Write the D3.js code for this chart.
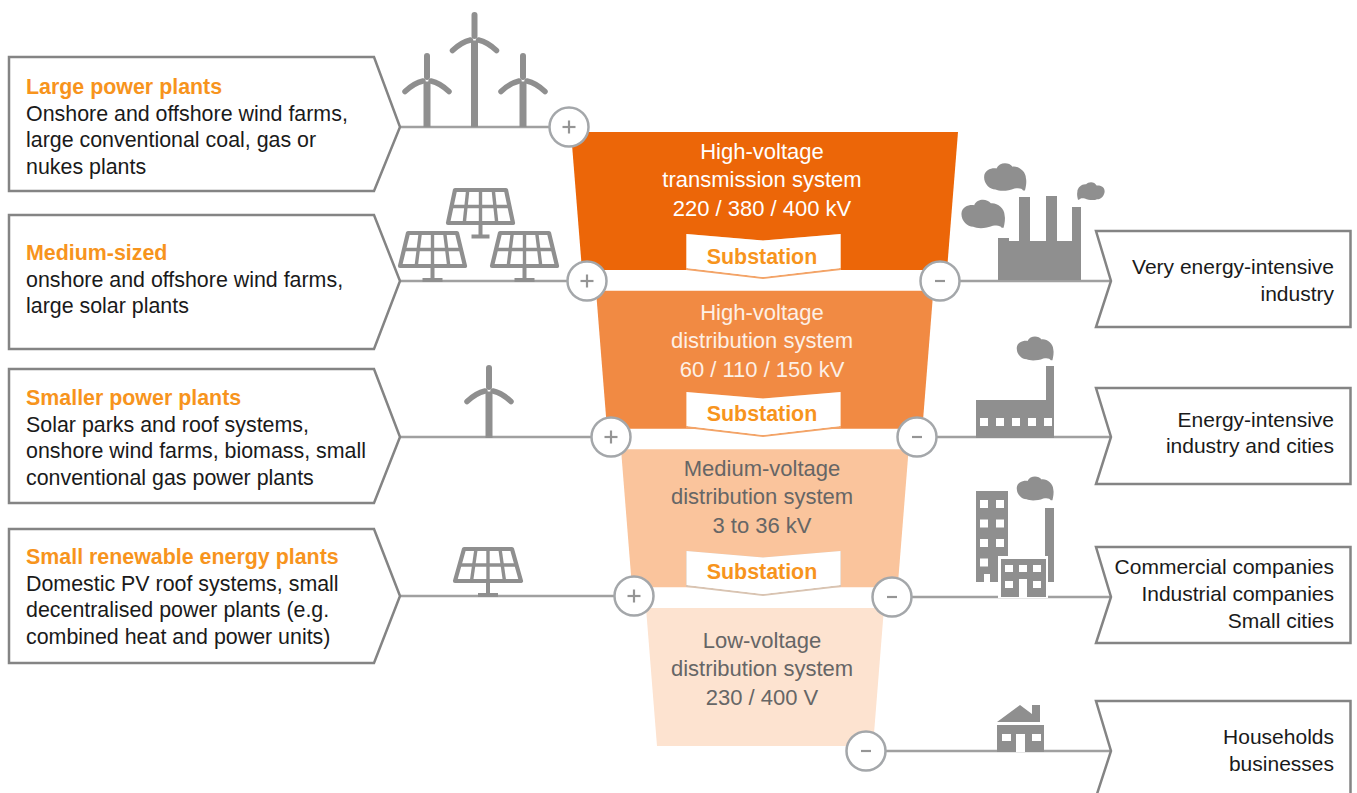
<!DOCTYPE html>
<html><head><meta charset="utf-8">
<script src="https://cdn.jsdelivr.net/npm/d3@7/dist/d3.min.js"></script>
<style>
html,body{margin:0;padding:0;background:#fff;overflow:hidden}
svg{display:block}
text{font-family:"Liberation Sans",Arial,sans-serif}
</style></head><body>
<script>
// ---- content ----
const sourceTitles = ["Large power plants","Medium-sized","Smaller power plants","Small renewable energy plants"];
const sourceLines = [
  ["Onshore and offshore wind farms,","large conventional coal, gas or","nukes plants"],
  ["onshore and offshore wind farms,","large solar plants"],
  ["Solar parks and roof systems,","onshore wind farms, biomass, small","conventional gas power plants"],
  ["Domestic PV roof systems, small","decentralised power plants (e.g.","combined heat and power units)"]
];
const sinkLines = [
  ["Very energy-intensive","industry"],
  ["Energy-intensive","industry and cities"],
  ["Commercial companies","Industrial companies","Small cities"],
  ["Households","businesses"]
];
const tierLines = [
  ["High-voltage","transmission system","220 / 380 / 400 kV"],
  ["High-voltage","distribution system","60 / 110 / 150 kV"],
  ["Medium-voltage","distribution system","3 to 36 kV"],
  ["Low-voltage","distribution system","230 / 400 V"]
];
const tierFill = ["#ec6608","#f18a43","#fac49c","#fde3d0"];
const tierText = ["#ffffff","#fdf0e6","#666666","#666666"];
const substationLabel = "Substation";

// ---- scales (tier index -> page position) ----
const idx = [0,1,2,3];
const W = 1357, H = 793;
const tierTop    = d3.scaleLinear([0,3],[132,608]);
const tierLeft   = d3.scaleLinear([0,3],[571,646]);
const tierRight  = d3.scaleLinear([0,3],[958,884]);
const srcY       = d3.scaleLinear(idx,[127,281,437,596]);
const sinkY      = d3.scaleLinear(idx,[281,437,597,751]);
const srcCircleX = d3.scaleLinear(idx,[569,587,611,634]);
const sinkCircleX= d3.scaleLinear(idx,[940,917,892,866]);
const subTop     = d3.scaleLinear([0,1,2],[235,393,552]);
const subBase    = d3.scaleLinear([0,1,2],[264,421,579]);
const srcTop     = d3.scaleLinear(idx,[57,215,369,529]);
const srcBase    = d3.scaleLinear(idx,[94,260,405,564]);
const sinkTop    = d3.scaleLinear(idx,[231,388,547,701]);
const tierH = 138, subH = 34;
const CX = 763, INK = "#8f8f8f", EDGE = "#848484", ORANGE = "#f7941d";

const svg = d3.select("body").append("svg").attr("width",W).attr("height",H);
const poly = pts => "M" + pts.map(p=>p.join(",")).join("L") + "Z";

// ---- funnel ----
svg.append("g").selectAll("path").data(idx).join("path")
  .attr("d", i => { const t=tierTop(i), l=tierLeft(i), r=tierRight(i);
    return poly([[l,t],[r,t],[r-11,t+tierH],[l+11,t+tierH]]); })
  .attr("fill", i => tierFill[i]);

// ---- substations ----
const subs = svg.append("g").selectAll("g").data([0,1,2]).join("g");
subs.append("path")
  .attr("d", i => { const t=subTop(i);
    return poly([[687,t],[CX,t+6.5],[840,t],[840,t+subH],[CX,t+subH+9],[687,t+subH]]); })
  .attr("fill","#fff")
  .attr("stroke", i => ["#f3a468","#f3a468","#d9c4b2"][i]).attr("stroke-width",2);
subs.append("path") // only the lower chevron keeps its tinted edge
  .attr("d", i => { const t=subTop(i);
    return poly([[686.5,t-1],[CX,t+5.5],[840.5,t-1],[840.5,t+subH-1],[CX,t+subH+8],[686.5,t+subH-1]]); })
  .attr("fill","#fff");
subs.append("text").attr("x",762).attr("y", i => subBase(i))
  .attr("text-anchor","middle").attr("font-size",21.4).attr("font-weight",700).attr("fill",ORANGE)
  .text(substationLabel);

// ---- tier text ----
const tierG = svg.append("g").selectAll("text").data(idx).join("text")
  .attr("text-anchor","middle").attr("font-size",22).attr("fill",i=>tierText[i]);
tierG.selectAll("tspan").data(i => tierLines[i].map((s,k)=>({s,k,i}))).join("tspan")
  .attr("x",762).attr("y", d => [159,320,476,648][d.i] + d.k*28.3).text(d=>d.s);

// ---- connector lines ----
svg.append("g").selectAll("line").data(idx).join("line")
  .attr("x1",400).attr("x2",i=>srcCircleX(i)).attr("y1",i=>srcY(i)).attr("y2",i=>srcY(i))
  .attr("stroke","#a0a0a0").attr("stroke-width",2.5);
svg.append("g").selectAll("line").data(idx).join("line")
  .attr("x1",i=>sinkCircleX(i)).attr("x2",1111).attr("y1",i=>sinkY(i)).attr("y2",i=>sinkY(i))
  .attr("stroke","#a0a0a0").attr("stroke-width",2.5);

// ---- left boxes ----
const srcG = svg.append("g").selectAll("g").data(idx).join("g");
srcG.append("path")
  .attr("d", i => { const t=srcTop(i), y=srcY(i);
    return poly([[9,t],[374,t],[400,y],[374,t+134],[9,t+134]]); })
  .attr("fill","#fff").attr("stroke",EDGE).attr("stroke-width",2.5);
srcG.append("text").attr("x",26).attr("y",i=>srcBase(i))
  .attr("font-size",21.4).attr("font-weight",700).attr("fill",ORANGE).text(i=>sourceTitles[i]);
srcG.selectAll(".l").data(i=>sourceLines[i].map((s,k)=>({s,k,i}))).join("text").attr("class","l")
  .attr("x",26).attr("y",d=>srcBase(d.i)+26.6*(d.k+1))
  .attr("font-size",21.4).attr("fill","#1a1a1a").text(d=>d.s);

// ---- right boxes ----
const sinkG = svg.append("g").selectAll("g").data(idx).join("g");
sinkG.append("path")
  .attr("d", i => { const t=sinkTop(i), y=sinkY(i);
    return poly([[1096,t],[1350.5,t],[1350.5,t+96],[1096,t+96],[1111,y]]); })
  .attr("fill","#fff").attr("stroke",EDGE).attr("stroke-width",2.5);
const sinkBase = [[274,301],[427,453],[574,601,628],[744,771]];
sinkG.selectAll(".l").data(i=>sinkLines[i].map((s,k)=>({s,k,i}))).join("text").attr("class","l")
  .attr("x",1334).attr("y",d=>sinkBase[d.i][d.k]).attr("text-anchor","end")
  .attr("font-size",21).attr("fill","#1a1a1a").text(d=>d.s);

// ---- +/- nodes ----
function node(x,y,sign){
  const g = svg.append("g").attr("transform",`translate(${x},${y})`);
  g.append("circle").attr("r",19.5).attr("fill","#fff").attr("stroke","#a4a7aa").attr("stroke-width",2.5);
  g.append("line").attr("x1",sign?-6.5:-5).attr("x2",sign?6.5:5).attr("stroke","#959595").attr("stroke-width",2.2);
  if(sign) g.append("line").attr("y1",-6.5).attr("y2",6.5).attr("stroke","#959595").attr("stroke-width",2.2);
}
idx.forEach(i=>node(srcCircleX(i),srcY(i),true));
idx.forEach(i=>node(sinkCircleX(i),sinkY(i),false));

// ---- icons ----
const ic = svg.append("g");
function turbine(x,base,top,hubOff){
  const hub = top + hubOff;
  const g = ic.append("g").attr("stroke",INK).attr("fill","none").attr("stroke-linecap","round");
  g.append("line").attr("x1",x).attr("x2",x).attr("y1",hub+1.5).attr("y2",base).attr("stroke-width",7).attr("stroke-linecap","butt");
  g.append("line").attr("x1",x).attr("x2",x).attr("y1",top+3).attr("y2",hub-3).attr("stroke-width",6);
  g.append("path").attr("d",`M${x-4},${hub+1}Q${x-13},${hub+3} ${x-22},${hub+11.5}`).attr("stroke-width",5.5);
  g.append("path").attr("d",`M${x+4},${hub+1}Q${x+13},${hub+3} ${x+22},${hub+11.5}`).attr("stroke-width",5.5);
}
turbine(427,127,53,27); turbine(474.5,127,12,27); turbine(523,127,53,27); turbine(489,438,365,25);

function panel(cx,top,bot,tw,bw,stemEnd,baseW){
  const g = ic.append("g").attr("stroke",INK).attr("fill","none");
  const xAt=(u,v)=>cx+(u-.5)*(tw+(bw-tw)*v);
  const yAt=v=>top+(bot-top)*v;
  g.append("path").attr("d",poly([[xAt(0,0),top],[xAt(1,0),top],[xAt(1,1),bot],[xAt(0,1),bot]]))
    .attr("stroke-width",4.2).attr("stroke-linejoin","round");
  [.25,.5,.75].forEach(u=>g.append("line").attr("x1",xAt(u,0)).attr("x2",xAt(u,1)).attr("y1",top).attr("y2",bot).attr("stroke-width",3.4));
  g.append("line").attr("x1",xAt(0,.5)).attr("x2",xAt(1,.5)).attr("y1",yAt(.5)).attr("y2",yAt(.5)).attr("stroke-width",3.6);
  g.append("line").attr("x1",cx).attr("x2",cx).attr("y1",bot).attr("y2",stemEnd).attr("stroke-width",4);
  g.append("line").attr("x1",cx-baseW/2).attr("x2",cx+baseW/2).attr("y1",stemEnd).attr("y2",stemEnd).attr("stroke-width",4);
}
panel(480.5,190,223,51,65,236.5,18);
panel(432.5,233,266,49,65,280,20);
panel(524.5,233,266,49,65,280,20);
panel(488,549,581,48,66,595,20);

function cloud(cx,cy,s,flip){
  ic.append("path").attr("fill",INK)
    .attr("transform",`translate(${cx},${cy}) scale(${flip?-s:s},${s})`)
    .attr("d","M-22,-3C-22,-11 -13,-13 -9,-12C-6,-19 4,-19 8,-14C14,-15 22,-9 22,-2C23,2 22,7 21,11L19,11C18,9 15,8 10,9C3,12 -6,12 -10,10C-16,10 -22,4 -22,-3Z");
}
const rect=(x,y,w,h,f=INK)=>ic.append("rect").attr("x",x).attr("y",y).attr("width",w).attr("height",h).attr("fill",f);
// heavy industry
ic.append("path").attr("fill",INK)
  .attr("d","M998,280V238H1009V241H1019V197H1030V241H1046V196H1057V241H1072V207H1081V280Z");
cloud(1005,180,.95); cloud(983,217,.98); cloud(1091,193,.62,true);
// factory
ic.append("path").attr("fill",INK).attr("d","M976,438V400H1046V366H1054V438Z");
cloud(1035,351,.83);
[980,996,1012,1028,1044].forEach(x=>rect(x,418,8,8,"#fff"));
// city block
rect(976,491,32,91);
[0,1,2,3].forEach(r=>[0,1].forEach(c=>{ if(r<3||c===0) rect(980+c*16,500+r*19.5,8,8,"#fff"); }));
rect(984,574,6,8,"#fff");
rect(1045,508,9,74); cloud(1035,491,.83);
rect(998,556,50,42,"#fff");
rect(1001,559,45,38);
[[1005,565],[1019,565],[1033,565],[1005,581],[1033,581]].forEach(p=>rect(p[0],p[1],8,7,"#fff"));
rect(1019,579,8,18,"#fff");
// house
ic.append("path").attr("fill",INK).attr("d","M997,722L1020,705L1032,714V705L1040,705V722Z");
rect(997,725,47,27);
rect(1002,734,9,7,"#fff"); rect(1032,734,9,7,"#fff"); rect(1016,734,9,18,"#fff");
</script>
</body></html>
